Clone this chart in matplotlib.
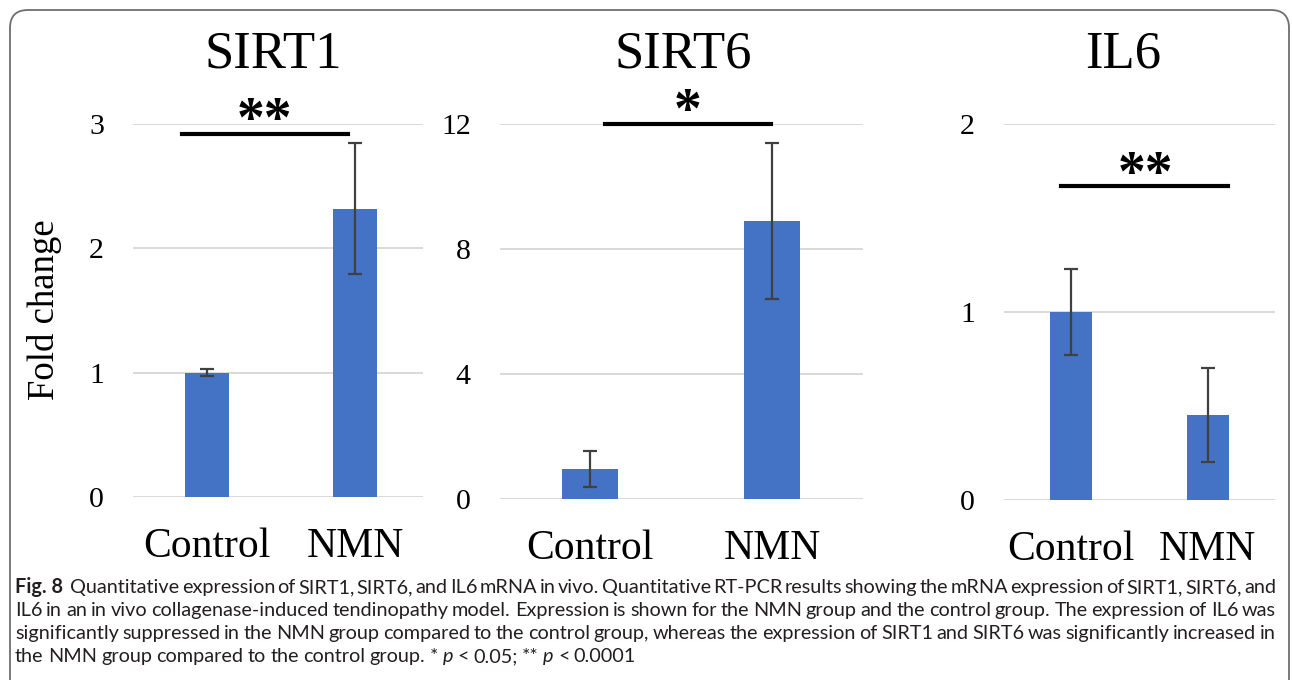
import matplotlib
matplotlib.use("Agg")
import matplotlib.pyplot as plt
from matplotlib.patches import FancyBboxPatch
from matplotlib.transforms import offset_copy

# dados (fold change, media +- erro)
categorias = ["Control", "NMN"]
genes = ["SIRT1", "SIRT6", "IL6"]
sirt1_media = [1.0, 2.32]
sirt1_erro = [0.03, 0.53]
sirt6_media = [0.97, 8.9]
sirt6_erro = [0.58, 2.5]
il6_media = [1.0, 0.45]
il6_erro = [0.23, 0.25]
sirt1_ticks = [0, 1, 2, 3]
sirt6_ticks = [0, 4, 8, 12]
il6_ticks = [0, 1, 2]
signif = ["**", "*", "**"]

W, H = 1292, 680
fig = plt.figure(figsize=(W / 100, H / 100), dpi=100)
fig.patch.set_facecolor("white")

AZUL = "#4472C4"
SERIF = ["Liberation Serif", "DejaVu Serif"]

def caixa(esq, dir, topo, base):
    # converte pixels da imagem para fracao da figura
    return [esq / W, 1 - base / H, (dir - esq) / W, (base - topo) / H]

# posicoes dos paineis em pixels (esq, dir, topo, base)
paineis = [
    dict(media=sirt1_media, erro=sirt1_erro, ticks=sirt1_ticks, box=(133, 423, 124, 497),
         xlim=(-0.5, 1.46), larg=0.30, sig_y=2.92, sig_x=(-0.17, 0.95), ast_y=3.08,
         titulo_x=273),
    dict(media=sirt6_media, erro=sirt6_erro, ticks=sirt6_ticks, box=(500, 863, 124, 499),
         xlim=(-0.495, 1.5), larg=0.31, sig_y=12.0, sig_x=(0.08, 0.995), ast_y=12.6,
         titulo_x=683),
    dict(media=il6_media, erro=il6_erro, ticks=il6_ticks, box=(1004, 1275, 124, 500),
         xlim=(-0.49, 1.49), larg=0.31, sig_y=1.67, sig_x=(-0.07, 1.15), ast_y=1.765,
         titulo_x=1123),
]

for i, p in enumerate(paineis):
    ax = fig.add_axes(caixa(*p["box"]))
    x = range(len(categorias))
    ax.bar(x, p["media"], width=p["larg"], color=AZUL, zorder=2)
    ax.errorbar(x, p["media"], yerr=p["erro"], fmt="none", ecolor="#404040",
                elinewidth=1.6, capsize=5, capthick=1.6, zorder=3)
    ax.set_xlim(*p["xlim"])
    ax.set_ylim(p["ticks"][0], p["ticks"][-1])
    ax.set_yticks(p["ticks"])
    ax.set_xticks(list(x))
    ax.set_xticklabels(categorias)
    ax.yaxis.grid(True, color="#D9D9D9", linewidth=1.4)
    ax.set_axisbelow(True)
    for s in ax.spines.values():
        s.set_visible(False)
    ax.tick_params(axis="y", length=0, pad=21, labelsize=21.5)
    ax.tick_params(axis="x", length=0, pad=22, labelsize=30)
    for lab in ax.get_xticklabels() + ax.get_yticklabels():
        lab.set_family(SERIF)
    # linha de significancia
    ax.plot(p["sig_x"], [p["sig_y"]] * 2, color="black", lw=3, clip_on=False, zorder=4)
    ax.text(sum(p["sig_x"]) / 2, p["ast_y"], signif[i], ha="center", va="center",
            fontsize=40, family=SERIF, weight="bold", clip_on=False,
            transform=offset_copy(ax.transData, fig=fig, y=-8, units="dots"))
    fig.text(p["titulo_x"] / W, 1 - 68 / H, genes[i], ha="center", va="baseline",
             fontsize=38, family=SERIF)

fig.text(45 / W, 1 - 310 / H, "Fold change", rotation=90, ha="center", va="center",
         fontsize=26.5, family=SERIF)

# moldura arredondada
moldura = FancyBboxPatch((0.10, -0.5), 12.79, 6.70 + 0.5, boxstyle="round,pad=0,rounding_size=0.18",
                         transform=fig.dpi_scale_trans, facecolor="none",
                         edgecolor="#6E6E6E", linewidth=1.3)
fig.patches.append(moldura)

# legenda (justificada palavra por palavra)
linhas = [
    [("Fig. 8", "bold", "normal")] + [(w, "normal", "normal") for w in
        "Quantitative expression of SIRT1, SIRT6, and IL6 mRNA in vivo. Quantitative RT-PCR results showing the mRNA expression of SIRT1, SIRT6, and".split()],
    [(w, "normal", "normal") for w in
        "IL6 in an in vivo collagenase-induced tendinopathy model. Expression is shown for the NMN group and the control group. The expression of IL6 was".split()],
    [(w, "normal", "normal") for w in
        "significantly suppressed in the NMN group compared to the control group, whereas the expression of SIRT1 and SIRT6 was significantly increased in".split()],
    [(w, "normal", "normal") for w in "the NMN group compared to the control group.".split()]
    + [("*", "normal", "normal"), ("p", "normal", "italic"), ("<", "normal", "normal"),
       ("0.05;", "normal", "normal"), ("**", "normal", "normal"), ("p", "normal", "italic"),
       ("<", "normal", "normal"), ("0.0001", "normal", "normal")],
]
bases = [593, 616, 639, 662]
x0, x1 = 15, 1276
FONTE = ["Lato", "DejaVu Sans"]
r = fig.canvas.get_renderer()

def largura(txt, tam, peso="normal", estilo="normal"):
    t = fig.text(0, 0, txt, fontsize=tam, family=FONTE, weight=peso, style=estilo)
    w = t.get_window_extent(r).width
    t.remove()
    return w

tam = 10 * (x1 - x0) * 1.025 / largura(" ".join(w for w, _, _ in linhas[1]), 10)
espaco = largura("a a", tam) - largura("aa", tam)

for k, linha in enumerate(linhas):
    ws = [largura(t, tam, pe, es) for t, pe, es in linha]
    extra = espaco * 1.0 if k == 0 else 0
    if k < 3:
        gap = (x1 - x0 - sum(ws) - extra) / (len(ws) - 1)
    else:
        gap = espaco * 0.85
    x = x0
    for j, ((t, pe, es), w) in enumerate(zip(linha, ws)):
        fig.text(x / W, 1 - bases[k] / H, t, fontsize=tam, family=FONTE, weight=pe,
                 style=es, ha="left", va="baseline", color="#231F20")
        x += w + gap
        if j == 0 and k == 0:
            x += extra

fig.savefig("out.png", dpi=100)
